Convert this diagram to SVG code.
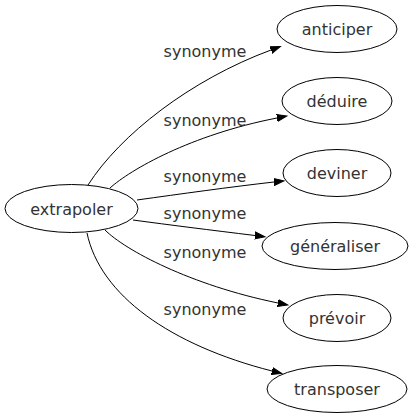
<svg xmlns="http://www.w3.org/2000/svg" width="415" height="419" viewBox="0 0 415 419">
<style>
.n ellipse{fill:none;stroke:#000;stroke-width:1}
text{font-family:"DejaVu Sans",sans-serif;font-size:16px;fill:#333;text-anchor:middle}
.e path{fill:none;stroke:#000;stroke-width:1;marker-end:url(#a)}
</style>
<defs>
<marker id="a" markerUnits="userSpaceOnUse" markerWidth="12" markerHeight="10" refX="0" refY="4" orient="auto" viewBox="0 0 12 8">
<polygon points="0,0.5 10,4 0,7.5" fill="#000" stroke="#000"/>
</marker>
</defs>
<rect width="415" height="419" fill="#fff"/>
<g class="e" id="edges">
<path d="M88,185 C120,135 190,80 271,50"/>
<path d="M110,188 C130,170 190,135 277,118"/>
<path d="M137,200 C180,194 230,187 274,182"/>
<path d="M133,220 C170,225 210,230 255,235.5"/>
<path d="M105,230 C125,250 190,285 278,303"/>
<path d="M87,233 C100,295 170,345 272,371"/>
<text x="205" y="57">synonyme</text>
<text x="205" y="126">synonyme</text>
<text x="205" y="182">synonyme</text>
<text x="205" y="219">synonyme</text>
<text x="205" y="258">synonyme</text>
<text x="205" y="315">synonyme</text>
</g>
<g class="n" id="extrapoler"><ellipse cx="71.5" cy="208.5" rx="66.5" ry="24"/><text x="71.5" y="214.5">extrapoler</text></g>
<g class="n" id="anticiper"><ellipse cx="337" cy="29" rx="60" ry="23.5"/><text x="337" y="35">anticiper</text></g>
<g class="n" id="deduire"><ellipse cx="337" cy="101" rx="55" ry="23.5"/><text x="337" y="107">déduire</text></g>
<g class="n" id="deviner"><ellipse cx="337" cy="173" rx="54" ry="23.5"/><text x="337" y="179">deviner</text></g>
<g class="n" id="generaliser"><ellipse cx="335" cy="246" rx="73" ry="23.5"/><text x="335" y="252">généraliser</text></g>
<g class="n" id="prevoir"><ellipse cx="337" cy="318" rx="54" ry="23.5"/><text x="337" y="324">prévoir</text></g>
<g class="n" id="transposer"><ellipse cx="337" cy="389" rx="70" ry="23.5"/><text x="337" y="395">transposer</text></g>
</svg>
